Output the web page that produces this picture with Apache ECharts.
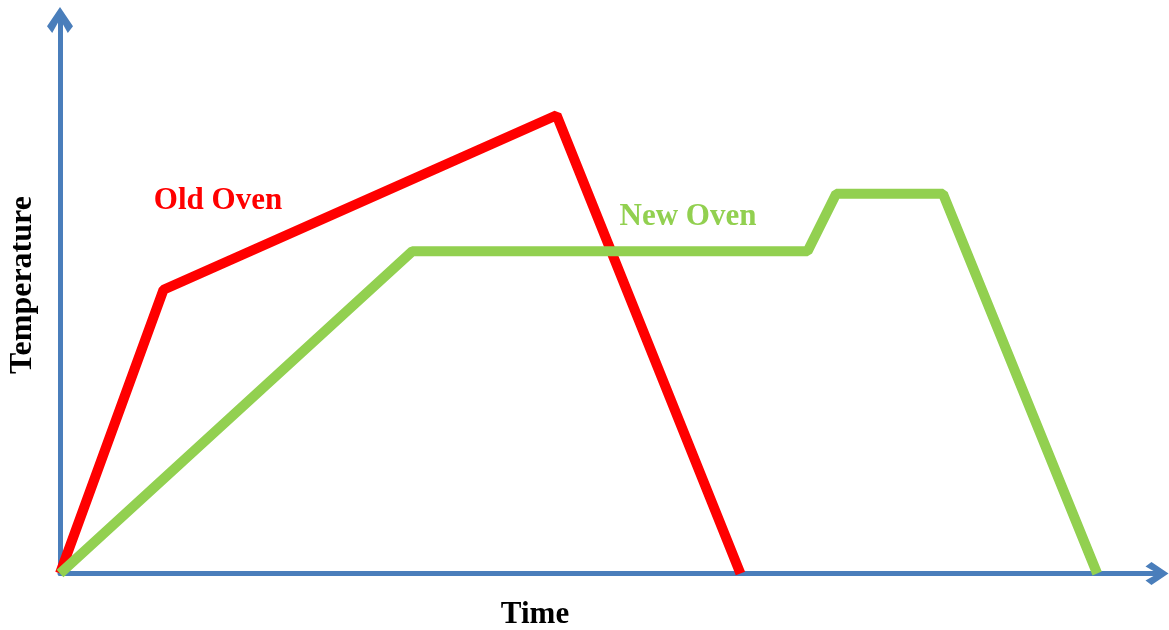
<!DOCTYPE html>
<html>
<head>
<meta charset="utf-8">
<script src="https://cdn.jsdelivr.net/npm/echarts@6/dist/echarts.min.js"></script>
<style>
html,body{margin:0;padding:0;background:#fff;}
#chart{width:1169px;height:630px;}
</style>
</head>
<body>
<div id="chart"></div>
<script>
// Old oven profile (time, temperature) in relative units
var oldTime = [0, 9.4, 45.1, 61.8];
var oldTemp = [0, 50.9, 82.2, 0];
// New oven profile
var newTime = [0, 32.0, 67.9, 70.5, 80.2, 94.2];
var newTemp = [0, 57.8, 57.8, 68.1, 68.1, 0];
var seriesNames = ['Old Oven', 'New Oven'];
var xTitle = 'Time';
var yTitle = 'Temperature';

function pairs(xs, ys) { return xs.map(function (x, i) { return [x, ys[i]]; }); }

var axisBlue = '#4a7ebb';
var chevron = 'path://M50,0 L100,74 L80,100 L50,46 L20,100 L0,74 Z';
var font = '"Liberation Serif", "Times New Roman", serif';

var chart = echarts.init(document.getElementById('chart'));
chart.setOption({
  animation: false,
  grid: { left: 60, right: 8, top: 16, bottom: 56.5 },
  xAxis: {
    type: 'value', min: 0, max: 100,
    axisLine: { show: true, lineStyle: { color: axisBlue, width: 5 },
      symbol: ['none', chevron], symbolSize: [26, 23], symbolOffset: [0, -4] },
    axisTick: { show: false }, axisLabel: { show: false }, splitLine: { show: false }
  },
  yAxis: {
    type: 'value', min: 0, max: 100,
    axisLine: { show: true, lineStyle: { color: axisBlue, width: 5 },
      symbol: ['none', chevron], symbolSize: [28, 26], symbolOffset: [0, -4] },
    axisTick: { show: false }, axisLabel: { show: false }, splitLine: { show: false }
  },
  series: [
    { name: seriesNames[0], type: 'line', data: pairs(oldTime, oldTemp), symbol: 'none',
      lineStyle: { color: '#ff0000', width: 10, join: 'bevel' }, z: 3 },
    { name: seriesNames[1], type: 'line', data: pairs(newTime, newTemp), symbol: 'none',
      lineStyle: { color: '#92d050', width: 10, join: 'bevel' }, z: 4 }
  ],
  graphic: [
    { type: 'text', x: 218, y: 201, style: { text: seriesNames[0], fill: '#ff0000', font: 'bold 31px ' + font, align: 'center', verticalAlign: 'middle' } },
    { type: 'text', x: 688, y: 217, style: { text: seriesNames[1], fill: '#92d050', font: 'bold 31px ' + font, align: 'center', verticalAlign: 'middle' } },
    { type: 'text', x: 535, y: 615, style: { text: xTitle, fill: '#000', font: 'bold 31px ' + font, align: 'center', verticalAlign: 'middle' } },
    { type: 'text', x: 23, y: 285, rotation: Math.PI / 2, style: { text: yTitle, fill: '#000', font: 'bold 32px ' + font, align: 'center', verticalAlign: 'middle' } }
  ]
});
</script>
</body>
</html>
